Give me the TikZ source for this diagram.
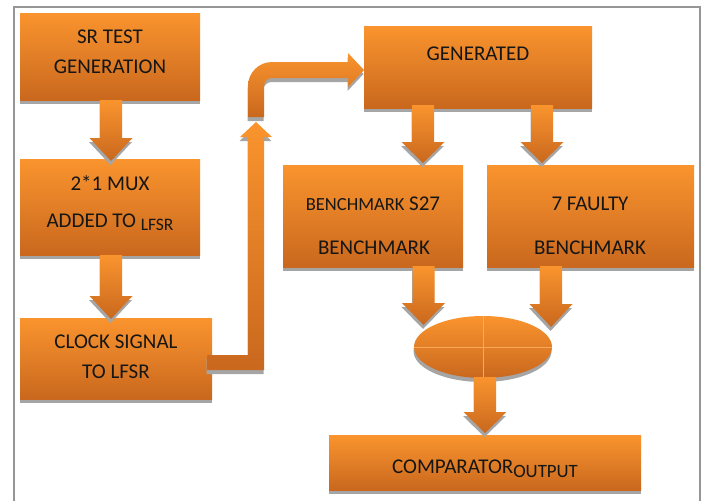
\documentclass[tikz,border=0pt]{standalone}
\usepackage{fontspec}
\setmainfont{Carlito}
\usetikzlibrary{shadows,shapes.geometric}
\definecolor{ortop}{RGB}{250,148,46}
\definecolor{orbot}{RGB}{201,104,30}
\definecolor{shd}{RGB}{165,165,165}
\definecolor{frm}{RGB}{150,150,150}
\definecolor{crossc}{RGB}{250,168,90}
\definecolor{txtc}{RGB}{22,22,22}
\tikzset{
  orshade/.style={top color=ortop, bottom color=orbot, draw=none},
  shad/.style={drop shadow={shadow xshift=-0.5pt, shadow yshift=-4pt, fill=shd, opacity=1}},
  blockbox/.style={rectangle, orshade, shad, inner sep=0pt},
  txt/.style={anchor=base, inner sep=0pt, text=txtc, font=\fontsize{21}{25}\selectfont},
  blockarrow/.style={orshade, shad},
}
\newcommand\dnarr[4]{%
  \path[blockarrow] (#1-11,#2) -- (#1+11,#2) -- (#1+11,#3) -- (#1+21.5,#3) -- (#1,#4) -- (#1-21.5,#3) -- (#1-11,#3) -- cycle;}
\begin{document}
\begin{tikzpicture}[x=1pt,y=-1pt]
\useasboundingbox (0,0) rectangle (705,501);
\draw[frm, line width=2.5pt] (14,503) -- (14,7) -- (700,7) -- (700,503);

% boxes
\node[blockbox, minimum width=180pt, minimum height=87pt] (sr) at (110,56.5) {};
\node[blockbox, minimum width=180pt, minimum height=96pt] (mux) at (110,207) {};
\node[blockbox, minimum width=192pt, minimum height=81pt] (clk) at (116,358.5) {};
\node[blockbox, minimum width=228pt, minimum height=82pt] (gen) at (478,67) {};
\node[blockbox, minimum width=180pt, minimum height=102pt] (bone) at (373,216) {};
\node[blockbox, minimum width=207pt, minimum height=102pt] (btwo) at (590.5,216) {};
\node[blockbox, minimum width=312pt, minimum height=55pt] (comp) at (485,462.5) {};
\node[ellipse, orshade, shad, inner sep=0pt, minimum width=138pt, minimum height=62pt] (cmp) at (483,347) {};
\draw[crossc, line width=1pt] (cmp.west) -- (cmp.east) (cmp.north) -- (cmp.south);

% texts
\node[txt] (t1) at (110,43) {SR TEST};
\node[txt] (t2) at (110,73) {GENERATION};
\node[txt] (t3) at (110,190) {2*1 MUX};
\node[txt] (t4) at (110,227) {ADDED TO \raisebox{-3pt}{\fontsize{17.5}{20}\selectfont LFSR}};
\node[txt] (t5) at (116,348) {CLOCK SIGNAL};
\node[txt] (t6) at (116,378) {TO LFSR};
\node[txt] (t7) at (478,60) {GENERATED};
\node[txt] (t8) at (373,210) {{\fontsize{18.5}{22}\selectfont BENCHMARK} S27};
\node[txt] (t9) at (374,254) {BENCHMARK};
\node[txt] (t10) at (590,210) {7 FAULTY};
\node[txt] (t11) at (590,254) {BENCHMARK};
\node[txt] (t12) at (485,473) {COMPARATOR\raisebox{-4pt}{\fontsize{18.8}{22}\selectfont OUTPUT}};

% block arrows
\dnarr{111}{100}{138}{161}
\dnarr{111}{255}{296}{319}
\dnarr{423}{105}{142}{163}
\dnarr{542}{105}{142}{163}
\dnarr{423.5}{266}{303}{325}
\dnarr{551}{266}{304}{327}
\dnarr{485}{377}{412}{433}

% clock -> up arrow
\path[blockarrow] (207,355) -- (248,355) -- (248,137) -- (240,137) -- (256,122) -- (272,137) -- (264,137) -- (264,370) -- (207,370) -- cycle;
% bent arrow into GENERATED
\path[blockarrow] (248,117) -- (248,86) arc[start angle=180,end angle=90,radius=24pt] -- (348,62) -- (348,53) -- (364,70) -- (348,87) -- (348,78) -- (272,78) arc[start angle=90,end angle=180,radius=8pt] -- (264,117) -- cycle;
\end{tikzpicture}
\end{document}
